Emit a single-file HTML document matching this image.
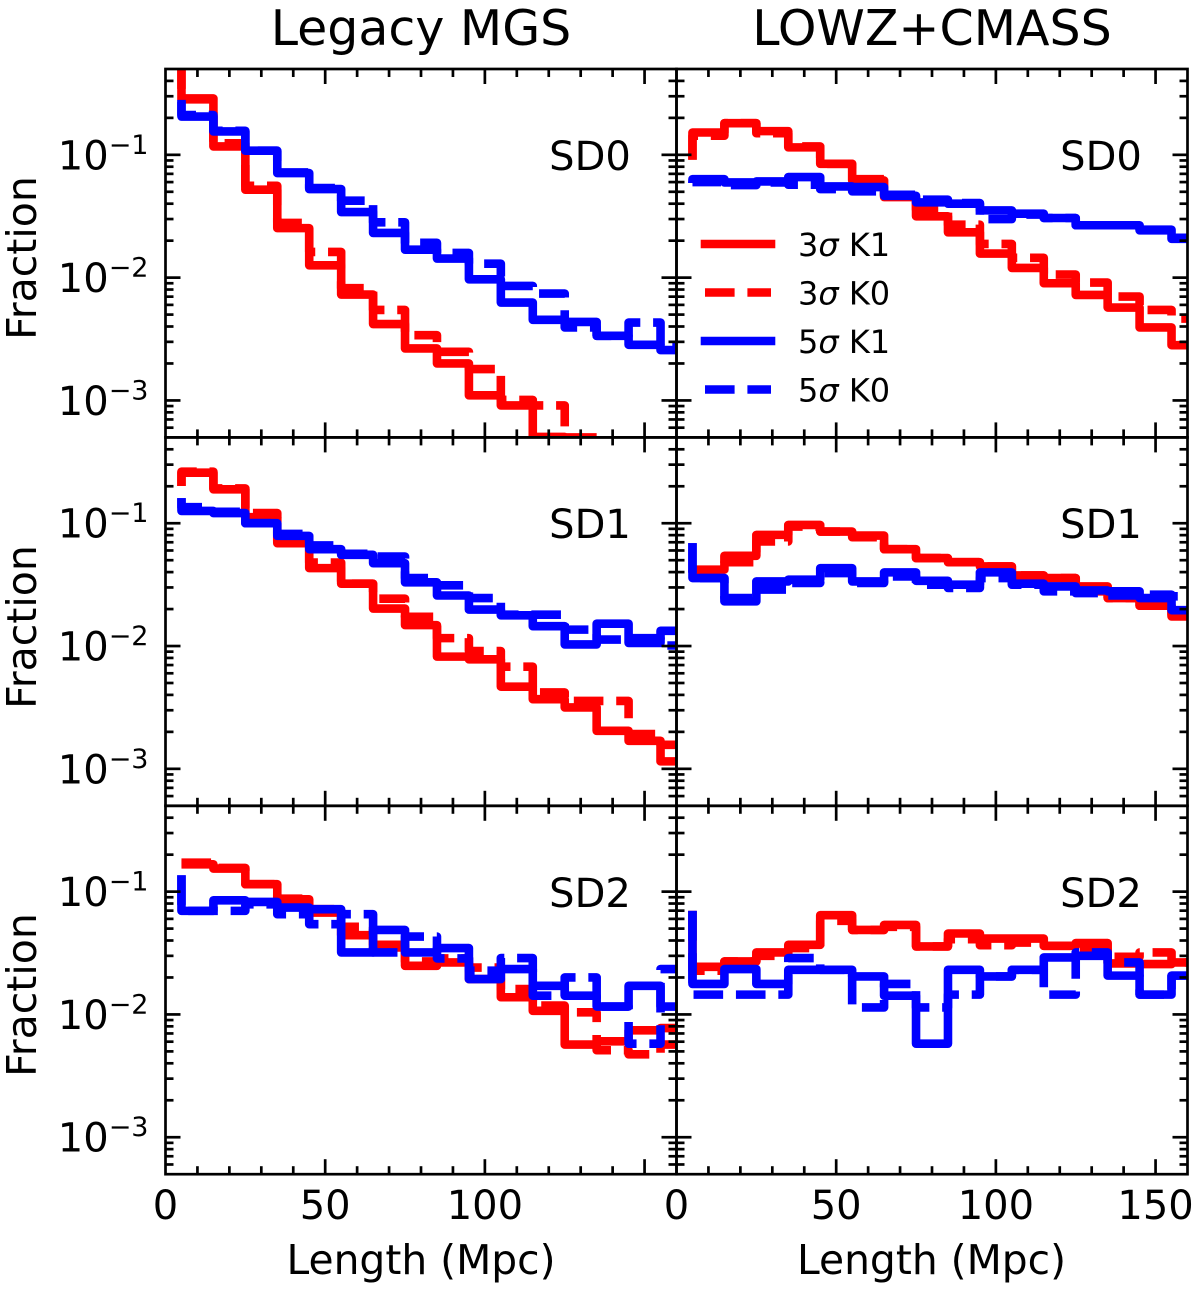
<!DOCTYPE html>
<html lang="en">
<head>
<meta charset="utf-8">
<title>Length fractions: Legacy MGS and LOWZ+CMASS</title>
<style>
html,body{margin:0;padding:0;background:#fff;}
svg{display:block;}
text{font-family:"DejaVu Sans","Liberation Sans",sans-serif;fill:#000;}
</style>
</head>
<body>
<svg id="chart" xmlns="http://www.w3.org/2000/svg" width="1200" height="1294" viewBox="0 0 1200 1294">
  <rect x="0" y="0" width="1200" height="1294" fill="#fff"/>
  <g id="panels"></g>
  <text x="421" y="45" font-size="49" text-anchor="middle">Legacy MGS</text>
  <text x="932" y="45" font-size="49" text-anchor="middle">LOWZ+CMASS</text>
  <text transform="translate(36 258) rotate(-90)" font-size="41" text-anchor="middle">Fraction</text>
  <text transform="translate(36 627) rotate(-90)" font-size="41" text-anchor="middle">Fraction</text>
  <text transform="translate(36 995) rotate(-90)" font-size="41" text-anchor="middle">Fraction</text>
  <text x="421" y="1274" font-size="40.8" text-anchor="middle">Length (Mpc)</text>
  <text x="931.5" y="1274" font-size="40.8" text-anchor="middle">Length (Mpc)</text>
  <text x="590" y="170" font-size="40" text-anchor="middle">SD0</text>
  <text x="1101" y="170" font-size="40" text-anchor="middle">SD0</text>
  <text x="590" y="538" font-size="40" text-anchor="middle">SD1</text>
  <text x="1101" y="538" font-size="40" text-anchor="middle">SD1</text>
  <text x="590" y="907" font-size="40" text-anchor="middle">SD2</text>
  <text x="1101" y="907" font-size="40" text-anchor="middle">SD2</text>
  <g>
    <line x1="705" y1="244" x2="771" y2="244" stroke="#f00" stroke-width="8.6" stroke-linecap="square"/>
    <text x="798" y="256" font-size="32">3<tspan font-style="italic">σ</tspan> K1</text>
    <line x1="705" y1="292.5" x2="771" y2="292.5" stroke="#f00" stroke-width="8.6" stroke-dasharray="29.6 12.8"/>
    <text x="798" y="304.5" font-size="32">3<tspan font-style="italic">σ</tspan> K0</text>
    <line x1="705" y1="341" x2="771" y2="341" stroke="#00f" stroke-width="8.6" stroke-linecap="square"/>
    <text x="798" y="353" font-size="32">5<tspan font-style="italic">σ</tspan> K1</text>
    <line x1="705" y1="389.5" x2="771" y2="389.5" stroke="#00f" stroke-width="8.6" stroke-dasharray="29.6 12.8"/>
    <text x="798" y="401.5" font-size="32">5<tspan font-style="italic">σ</tspan> K0</text>
  </g>
</svg>
<script>
// Step-histogram node positions (Mpc). Each series starts with a short riser at the first edge,
// then holds one fraction per 10 Mpc bin. null = empty bin.
const binEdges = [5,15,25,35,45,55,65,75,85,95,105,115,125,135,145,155,165];

const legacySD0_3sK1 = [0.6,0.283,0.117,0.052,0.0253,0.0126,0.00728,0.00419,0.00265,0.002,0.0011,0.00091,0.000504,0.0005,null,null,null];
const legacySD0_3sK0 = [0.6,0.288,0.124,0.056,0.0279,0.0162,0.0082,0.00546,0.0034,0.00249,0.0018,0.00101,0.00091,0.000336,null,null,null];
const legacySD0_5sK1 = [0.271,0.205,0.155,0.108,0.071,0.0526,0.0342,0.0231,0.0169,0.0143,0.00969,0.00627,0.00453,0.00436,0.00336,0.00284,0.00257];
const legacySD0_5sK0 = [0.28,0.211,0.157,0.108,0.0719,0.0536,0.0423,0.0282,0.0192,0.0159,0.013,0.00856,0.00742,0.00393,0.00336,0.00431,0.00279];

const lowzSD0_3sK1 = [0.0911,0.152,0.181,0.156,0.115,0.0845,0.0619,0.0453,0.0316,0.0234,0.0157,0.012,0.009,0.00723,0.00571,0.00393,0.00282];
const lowzSD0_3sK0 = [0.0911,0.143,0.181,0.15,0.117,0.0845,0.0634,0.0473,0.0358,0.027,0.0188,0.0145,0.0106,0.00911,0.00701,0.00546,0.00464];
const lowzSD0_5sK1 = [0.0589,0.0634,0.0596,0.0607,0.0659,0.0553,0.0546,0.0464,0.041,0.04,0.0353,0.0332,0.0306,0.0267,0.0267,0.0246,0.0207];
const lowzSD0_5sK0 = [0.0589,0.06,0.0567,0.0596,0.0571,0.0526,0.0504,0.0473,0.0431,0.0405,0.03,0.0326,0.0306,0.0267,0.0267,0.0243,0.0211];

const legacySD1_3sK1 = [0.201,0.258,0.189,0.112,0.0688,0.0431,0.0322,0.0202,0.0148,0.0082,0.00779,0.00467,0.00369,0.00316,0.00204,0.00169,0.00115];
const legacySD1_3sK0 = [0.201,0.263,0.192,0.121,0.071,0.0479,0.0322,0.0243,0.0173,0.0116,0.00911,0.00679,0.00419,0.00357,0.00357,0.00192,0.00157];
const legacySD1_5sK1 = [0.16,0.126,0.121,0.1,0.0789,0.0615,0.0553,0.0473,0.033,0.0258,0.0198,0.0178,0.0145,0.0103,0.0152,0.0106,0.0133];
const legacySD1_5sK0 = [0.16,0.135,0.124,0.1,0.0819,0.0659,0.0564,0.0536,0.0358,0.0312,0.0246,0.018,0.018,0.0136,0.0113,0.0116,0.0101];

const lowzSD1_3sK1 = [0.0419,0.0419,0.0543,0.0804,0.0969,0.0856,0.0794,0.0615,0.052,0.0482,0.0445,0.0376,0.0358,0.0306,0.0246,0.0213,0.0174];
const lowzSD1_3sK0 = [0.0419,0.0405,0.0482,0.071,0.0939,0.0856,0.077,0.0615,0.052,0.0482,0.0445,0.0376,0.0358,0.0279,0.0246,0.0213,0.018];
const lowzSD1_5sK1 = [0.0688,0.0358,0.0231,0.0336,0.0347,0.0431,0.0336,0.0398,0.034,0.0316,0.0398,0.0322,0.0306,0.0284,0.0279,0.0246,0.0196];
const lowzSD1_5sK0 = [0.0688,0.0358,0.0246,0.0288,0.0326,0.0393,0.0326,0.0369,0.0316,0.0297,0.0358,0.0316,0.0279,0.027,0.0258,0.0262,0.0254];

const legacySD2_3sK1 = [0.167,0.167,0.154,0.115,0.0866,0.0675,0.0442,0.0369,0.0249,0.0265,0.0194,0.0138,0.0107,0.00568,0.00604,0.00742,0.00775];
const legacySD2_3sK0 = [0.172,0.172,0.156,0.115,0.0877,0.0719,0.0517,0.0351,0.027,0.0286,0.0241,0.0161,0.0118,0.0104,0.00511,0.00473,0.00568];
const legacySD2_5sK1 = [0.136,0.0697,0.085,0.0824,0.0742,0.0719,0.032,0.0488,0.032,0.0347,0.0194,0.0234,0.0171,0.0142,0.0116,0.0171,0.0116];
const legacySD2_5sK0 = [0.136,0.0697,0.0697,0.0789,0.0655,0.0543,0.0655,0.032,0.0431,0.0286,0.0227,0.0288,0.0142,0.02,0.0116,0.00578,0.0234];

const lowzSD2_3sK1 = [0.0697,0.0244,0.027,0.032,0.0369,0.0643,0.0488,0.0536,0.0358,0.0456,0.0415,0.0415,0.0362,0.0381,0.026,0.0257,0.0265];
const lowzSD2_3sK0 = [0.0697,0.0227,0.027,0.03,0.0347,0.0578,0.0488,0.0517,0.0358,0.041,0.0366,0.0385,0.0362,0.034,0.0295,0.032,0.0265];
const lowzSD2_5sK1 = [0.0697,0.0177,0.0234,0.0177,0.0231,0.0231,0.0204,0.0142,0.00578,0.0231,0.0204,0.0231,0.0291,0.03,0.0207,0.0145,0.0207];
const lowzSD2_5sK0 = [0.0697,0.0145,0.0145,0.0145,0.0288,0.0231,0.0114,0.0177,0.0114,0.0145,0.0204,0.0231,0.0145,0.032,0.0265,0.0145,0.0207];

const rowNames = ['sd0','sd1','sd2'];
const columnNames = ['legacy','lowz'];
const xMajorTicks = [0,50,100,150];
const xMinorTicks = [10,20,30,40,60,70,80,90,110,120,130,140];
const xLabelsLegacy = ['0','50','100'];
const xLabelsLowz = ['0','50','100','150'];
const yMajorExponents = [-1,-2,-3];
const yMinorTicks = [0.4,0.3,0.2,0.09,0.08,0.07,0.06,0.05,0.04,0.03,0.02,0.009,0.008,0.007,0.006,0.005,0.004,0.003,0.002,0.0009,0.0008,0.0007,0.0006];

const panelSeries = [
  [[legacySD0_3sK1,legacySD0_3sK0,legacySD0_5sK1,legacySD0_5sK0],[lowzSD0_3sK1,lowzSD0_3sK0,lowzSD0_5sK1,lowzSD0_5sK0]],
  [[legacySD1_3sK1,legacySD1_3sK0,legacySD1_5sK1,legacySD1_5sK0],[lowzSD1_3sK1,lowzSD1_3sK0,lowzSD1_5sK1,lowzSD1_5sK0]],
  [[legacySD2_3sK1,legacySD2_3sK0,legacySD2_5sK1,legacySD2_5sK0],[lowzSD2_3sK1,lowzSD2_3sK0,lowzSD2_5sK1,lowzSD2_5sK0]]
];
const seriesNames = ['3-sigma-k1','3-sigma-k0','5-sigma-k1','5-sigma-k0'];

const NS = 'http://www.w3.org/2000/svg';
const Y_MAX = 0.5;
const PANEL_W = 511;
const PANEL_H = 368.4;
const X_PER_MPC = PANEL_W / 160;
const Y_PER_DECADE = PANEL_H / 3;
const LINE_W = 8.6;

function panelLeft(col) { return 165.5 + PANEL_W * col; }
function panelTop(row) { return 69 + PANEL_H * row; }
function xScale(col, v) { return panelLeft(col) + v * X_PER_MPC; }
function yScale(row, f) { return panelTop(row) + (Math.log10(Y_MAX) - Math.log10(f)) * Y_PER_DECADE; }

function add(parent, tag, name) {
  const el = document.createElementNS(NS, tag);
  
  
  parent.appendChild(el);
  return el;
}
function setAll(el, attrs) {
  Object.keys(attrs).forEach(function (k) { el.setAttribute(k, attrs[k]); });
  return el;
}
function tick(parent, name, x1, y1, x2, y2) {
  setAll(add(parent, 'line', name), {x1: x1, y1: y1, x2: x2, y2: y2, stroke: '#000', 'stroke-width': 2.7});
}
function stepPath(row, col, values) {
  let d = 'M' + xScale(col, binEdges[0]).toFixed(2) + ' ' + yScale(row, values[0]).toFixed(2);
  for (let i = 1; i < values.length; i++) {
    if (values[i] === null) break;
    d += 'V' + yScale(row, values[i]).toFixed(2) + 'H' + xScale(col, binEdges[i]).toFixed(2);
  }
  return d;
}

const root = document.getElementById('panels');
const defs = add(root, 'defs', 'clip-definitions');

panelSeries.forEach(function (rowSeries, row) {
  rowSeries.forEach(function (series, col) {
    const id = columnNames[col] + '-' + rowNames[row];
    const L = panelLeft(col), T = panelTop(row), R = L + PANEL_W, B = T + PANEL_H;
    const clip = add(defs, 'clipPath', 'clip-' + id);
    clip.setAttribute('id', 'clip-' + id);
    setAll(add(clip, 'rect', 'clip-rect-' + id), {x: L, y: T, width: PANEL_W, height: PANEL_H});

    const panel = add(root, 'g', 'panel-' + id);
    const lines = add(panel, 'g', 'series-group-' + id);
    lines.setAttribute('clip-path', 'url(#clip-' + id + ')');
    series.forEach(function (values, s) {
      const path = add(lines, 'path', 'line-' + id + '-' + seriesNames[s]);
      setAll(path, {
        d: stepPath(row, col, values),
        fill: 'none',
        stroke: s < 2 ? '#f00' : '#00f',
        'stroke-width': LINE_W,
        'stroke-linejoin': 'round'
      });
      if (s % 2 === 1) path.setAttribute('stroke-dasharray', '29.6 12.8');
    });

    const ticks = add(panel, 'g', 'ticks-' + id);
    xMajorTicks.forEach(function (v) {
      const x = xScale(col, v);
      if (v > 0) {
        tick(ticks, 'x-major-tick-bottom', x, B, x, B - 15);
        tick(ticks, 'x-major-tick-top', x, T, x, T + 15);
      }
    });
    xMinorTicks.forEach(function (v) {
      const x = xScale(col, v);
      tick(ticks, 'x-minor-tick-bottom', x, B, x, B - 8);
      tick(ticks, 'x-minor-tick-top', x, T, x, T + 8);
    });
    yMajorExponents.forEach(function (e) {
      const y = yScale(row, Math.pow(10, e));
      tick(ticks, 'y-major-tick-left', L, y, L + 15, y);
      tick(ticks, 'y-major-tick-right', R, y, R - 15, y);
    });
    yMinorTicks.forEach(function (f) {
      const y = yScale(row, f);
      tick(ticks, 'y-minor-tick-left', L, y, L + 8, y);
      tick(ticks, 'y-minor-tick-right', R, y, R - 8, y);
    });

    const frame = add(panel, 'rect', 'panel-frame-' + id);
    setAll(frame, {x: L, y: T, width: PANEL_W, height: PANEL_H, fill: 'none', stroke: '#000', 'stroke-width': 2.7});

    if (col === 0) {
      yMajorExponents.forEach(function (e) {
        const y = yScale(row, Math.pow(10, e));
        const label = add(panel, 'text', 'y-tick-label-' + id + '-1e' + e);
        setAll(label, {x: 148.5, y: y + 14.5, 'font-size': 40, 'text-anchor': 'end'});
        label.appendChild(document.createTextNode('10'));
        const sup = add(label, 'tspan', 'y-tick-exponent');
        setAll(sup, {dy: -15.5, 'font-size': 27});
        sup.textContent = '\u2212' + Math.abs(e);
      });
    }
    if (row === 2) {
      const labels = col === 0 ? xLabelsLegacy : xLabelsLowz;
      labels.forEach(function (t) {
        const label = add(panel, 'text', 'x-tick-label-' + columnNames[col] + '-' + t);
        setAll(label, {x: xScale(col, Number(t)), y: 1219, 'font-size': 40, 'text-anchor': 'middle'});
        label.textContent = t;
      });
    }
  });
});
</script>
</body>
</html>
